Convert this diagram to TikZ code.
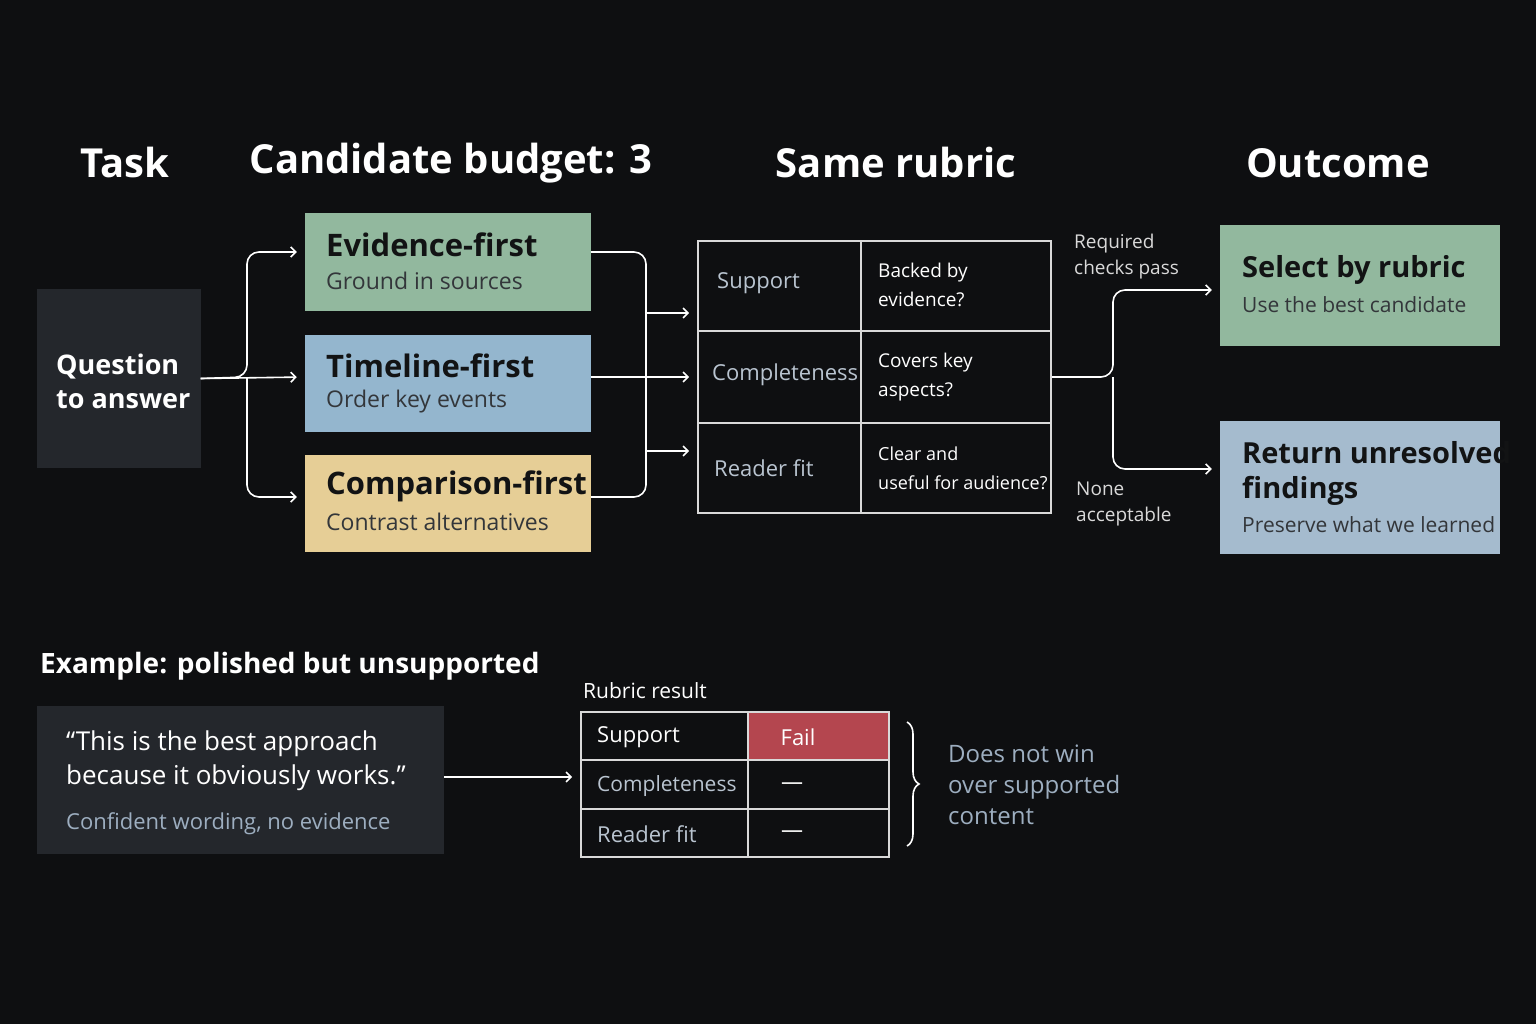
\documentclass[tikz,border=0pt]{standalone}
\usepackage{fontspec}
\setmainfont{Open Sans}
\usepackage{tikz}
\usetikzlibrary{positioning, arrows.meta, decorations.pathreplacing}
\definecolor{bg}{HTML}{0E0F11}
\definecolor{panel}{HTML}{24272C}
\definecolor{evgreen}{HTML}{92B89E}
\definecolor{tlblue}{HTML}{94B6CE}
\definecolor{cmpyellow}{HTML}{E6CE96}
\definecolor{outblue}{HTML}{A5BBCE}
\definecolor{failred}{HTML}{B4464F}
\definecolor{mutetxt}{HTML}{B9C4D0}
\definecolor{softblue}{HTML}{9DAEC0}
\definecolor{ink}{HTML}{121314}
\definecolor{subink}{HTML}{33363A}

\begin{document}
\begin{tikzpicture}[x=1pt,y=-1pt,
  head/.style={text=white, font=\fontsize{40}{44}\selectfont\bfseries},
  ttl/.style={anchor=west, text=ink, font=\fontsize{31}{34}\selectfont\bfseries, inner sep=0pt},
  sub/.style={anchor=west, text=subink, font=\fontsize{23}{26}\selectfont, inner sep=0pt},
  cell/.style={anchor=west, text=mutetxt, font=\fontsize{22}{26}\selectfont, inner sep=0pt},
  ask/.style={anchor=west, text=white, font=\fontsize{19}{29}\selectfont, align=left, inner sep=0pt},
  note/.style={anchor=west, text=white!85!black, font=\fontsize{19}{26}\selectfont, align=left, inner sep=0pt},
  tline/.style={draw=white!85!black, line width=1.6pt},
  conn/.style={white, line width=1.6pt, rounded corners=12pt},
  arr/.style={conn, -{Straight Barb[length=5pt,width=10pt]}, shorten >=8pt},
]
\fill[bg] (0,0) rectangle (1536,1024);
\useasboundingbox (0,0) rectangle (1536,1024);

% column heads
\node[head] (hTask) at (125,163) {Task};
\node[head] (hBudget) at (451,163) {Candidate budget: 3};
\node[head] (hRubric) at (896,163) {Same rubric};
\node[head] (hOut) at (1338,163) {Outcome};

% task
\node[fill=panel, minimum width=164, minimum height=179, inner sep=0pt] (q) at (118.5,378.5) {};
\node[anchor=west, text=white, align=left, inner sep=0pt,
  font=\fontsize{27}{34}\selectfont\bfseries] (qT) at (56,381) {Question\\to answer};

% candidates
\node[fill=evgreen, minimum width=286, minimum height=98, inner sep=0pt] (ev) at (448,262) {};
\node[ttl] (evT) at (326,245) {Evidence-first};
\node[sub] (evS) at (326,281) {Ground in sources};
\node[fill=tlblue, minimum width=286, minimum height=97, inner sep=0pt] (tl) at (448,383) {};
\node[ttl] (tlT) at (326,366) {Timeline-first};
\node[sub] (tlS) at (326,402) {Order key events};
\node[fill=cmpyellow, minimum width=286, minimum height=97, inner sep=0pt] (cp) at (448,503.5) {};
\node[ttl] (cpT) at (326,486) {Comparison-first};
\node[sub] (cpS) at (326,522) {Contrast alternatives};

% fork out of the task
\coordinate (fk) at (247,377);
\draw[arr] (q.east) -- (fk) |- (ev.west |- 0,252);
\draw[arr] (q.east) -- (tl.west |- 0,377);
\draw[arr] (fk) |- (cp.west |- 0,497);

% rubric table
\node[tline, minimum width=353, minimum height=272, inner sep=0pt] (rub) at (874.5,377) {};
\draw[tline] (861,241) -- (861,513);
\draw[tline] (698,331) -- (1051,331);
\draw[tline] (698,423) -- (1051,423);
\node[cell] (rS) at (717,283) {Support};
\node[cell] (rC) at (712,375) {Completeness};
\node[cell] (rR) at (714,468) {Reader fit};
\node[ask] (aS) at (878,285) {Backed by\\evidence?};
\node[ask] (aC) at (878,377) {Covers key\\aspects?};
\node[ask, font=\fontsize{18}{29}\selectfont] (aR) at (878,468) {Clear and\\useful for audience?};

% merge into the rubric
\coordinate (mj) at (646,377);
\draw[conn] (ev.east |- 0,252) -| (mj) |- (cp.east |- 0,497);
\coordinate (m1) at (646,313);
\coordinate (m3) at (646,451);
\draw[arr] (m1) -- (rub.west |- m1);
\draw[arr] (tl.east |- 0,377) -- (rub.west |- 0,377);
\draw[arr] (m3) -- (rub.west |- m3);

% outcomes
\node[fill=evgreen, minimum width=280, minimum height=121, inner sep=0pt] (sel) at (1360,285.5) {};
\node[ttl, font=\fontsize{29}{32}\selectfont\bfseries] (selT) at (1242,270) {Select by rubric};
\node[sub, font=\fontsize{21}{24}\selectfont] (selS) at (1242,305) {Use the best candidate};
\node[fill=outblue, minimum width=280, minimum height=133, inner sep=0pt] (ret) at (1360,487.5) {};
\node[ttl, align=left, font=\fontsize{29}{35}\selectfont\bfseries] (retT) at (1242,473) {Return unresolved\\findings};
\node[sub, font=\fontsize{21}{24}\selectfont] (retS) at (1242,525) {Preserve what we learned};

\coordinate (sp) at (1113,377);
\draw[arr] (rub.east |- 0,377) -- (sp) |- (sel.west |- 0,290);
\draw[arr] (sp) |- (ret.west |- 0,469);
\node[note] (lPass) at (1074,257) {Required\\checks pass};
\node[note] (lNone) at (1076,504) {None\\acceptable};

% example
\node[anchor=west, text=white, inner sep=0pt, font=\fontsize{28}{32}\selectfont\bfseries] (exH) at (40,666) {Example: polished but unsupported};
\node[fill=panel, minimum width=407, minimum height=148, inner sep=0pt] (quote) at (240.5,780) {};
\node[anchor=west, text=white, align=left, inner sep=0pt, font=\fontsize{26}{34}\selectfont] (qtT) at (66,761) {“This is the best approach\\because it obviously works.”};
\node[anchor=west, text=softblue, inner sep=0pt, font=\fontsize{22}{26}\selectfont] (qtS) at (66,824) {Confident wording, no evidence};

\node[anchor=west, text=white, inner sep=0pt, font=\fontsize{21}{24}\selectfont] (resH) at (583,691) {Rubric result};
\fill[failred] (748,712) rectangle (889,760);
\node[tline, minimum width=308, minimum height=145, inner sep=0pt] (res) at (735,784.5) {};
\draw[tline] (748,712) -- (748,857);
\draw[tline] (581,760) -- (889,760);
\draw[tline] (581,809) -- (889,809);
\node[anchor=west, text=white, inner sep=0pt, font=\fontsize{22}{26}\selectfont] (xS) at (597,737) {Support};
\node[anchor=west, text=mutetxt, inner sep=0pt, font=\fontsize{21}{26}\selectfont] (xC) at (597,786) {Completeness};
\node[anchor=west, text=mutetxt, inner sep=0pt, font=\fontsize{22}{26}\selectfont] (xR) at (597,834) {Reader fit};
\node[text=white, inner sep=0pt, font=\fontsize{22}{26}\selectfont] (vS) at (798,737) {Fail};
\node[text=white, inner sep=0pt, font=\fontsize{22}{26}\selectfont] (vC) at (792,786) {—};
\node[text=white, inner sep=0pt, font=\fontsize{22}{26}\selectfont] (vR) at (792,834) {—};

\draw[arr] (quote.east |- 0,777) -- (res.west |- 0,777);

\coordinate (brT) at (907,722);
\coordinate (brB) at (907,846);
\draw[white, line width=1.6pt, decorate, decoration={brace, amplitude=12pt}] (brT) -- (brB);
\node[anchor=west, text=softblue, align=left, inner sep=0pt, font=\fontsize{24}{31}\selectfont] (verdict) at (948,785) {Does not win\\over supported\\content};
\end{tikzpicture}
\end{document}
